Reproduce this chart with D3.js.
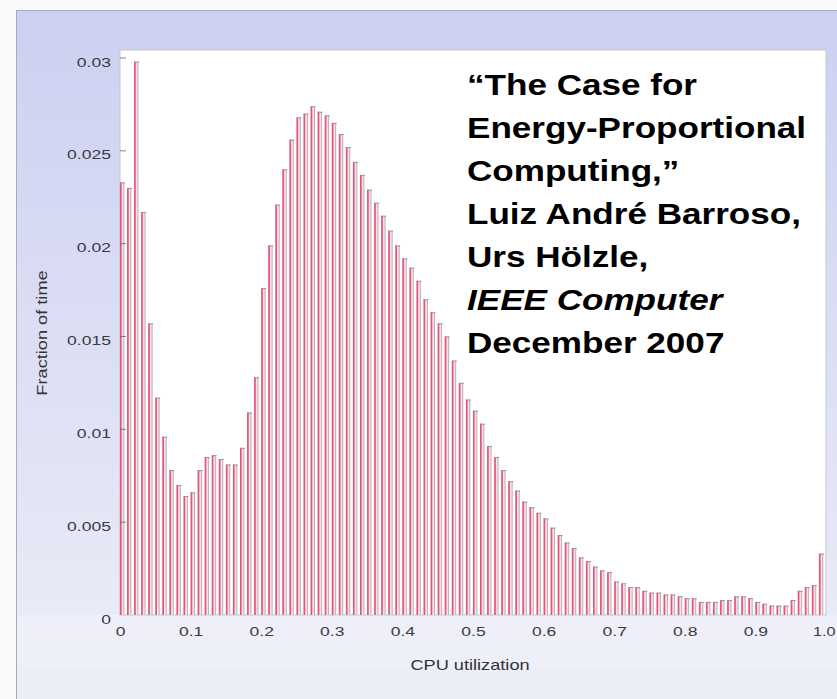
<!DOCTYPE html>
<html>
<head>
<meta charset="utf-8">
<script src="https://cdn.jsdelivr.net/npm/d3@7"></script>
<style>
  html, body { margin: 0; padding: 0; background: #ffffff; }
  svg { display: block; }
</style>
</head>
<body>
<svg id="chart" width="837" height="699"></svg>
<script>
// ---- data (fraction of time per 0.01-wide CPU utilization bin) ----
const binStarts = d3.range(0, 100).map(i => i / 100);
const fractionOfTime = [
  0.0233, 0.0230, 0.0298, 0.0217, 0.0157, 0.0117, 0.0096, 0.0078, 0.0070, 0.0064,
  0.0066, 0.0078, 0.0085, 0.0086, 0.0084, 0.0081, 0.0081, 0.0090, 0.0109, 0.0128,
  0.0176, 0.0199, 0.0221, 0.0240, 0.0256, 0.0268, 0.0270, 0.0274, 0.0271, 0.0269,
  0.0265, 0.0259, 0.0252, 0.0244, 0.0237, 0.0229, 0.0222, 0.0215, 0.0207, 0.0199,
  0.0192, 0.0187, 0.0180, 0.0170, 0.0163, 0.0157, 0.0150, 0.0137, 0.0125, 0.0116,
  0.0110, 0.0103, 0.0091, 0.0085, 0.0078, 0.0072, 0.0067, 0.0061, 0.0058, 0.0055,
  0.0052, 0.0047, 0.0043, 0.0039, 0.0036, 0.0031, 0.0029, 0.0026, 0.0024, 0.0023,
  0.0018, 0.0017, 0.0015, 0.0015, 0.0013, 0.0012, 0.0012, 0.0011, 0.0011, 0.0010,
  0.0009, 0.0009, 0.0007, 0.0007, 0.0007, 0.0008, 0.0008, 0.0010, 0.0010, 0.0009,
  0.0007, 0.0006, 0.0005, 0.0005, 0.0005, 0.0008, 0.0013, 0.0015, 0.0016, 0.0033
];
const binWidth = 0.01;
const yTickValues = [0, 0.005, 0.01, 0.015, 0.02, 0.025, 0.03];
const yTickLabels = ["0", "0.005", "0.01", "0.015", "0.02", "0.025", "0.03"];
const xTickValues = [0, 0.1, 0.2, 0.3, 0.4, 0.5, 0.6, 0.7, 0.8, 0.9, 1.0];
const xTickLabels = ["0", "0.1", "0.2", "0.3", "0.4", "0.5", "0.6", "0.7", "0.8", "0.9", "1.0"];
const yAxisTitle = "Fraction of time";
const xAxisTitle = "CPU utilization";
const citationLines = [
  { text: "\u201CThe Case for", italic: false },
  { text: "Energy-Proportional", italic: false },
  { text: "Computing,\u201D", italic: false },
  { text: "Luiz Andr\u00E9 Barroso,", italic: false },
  { text: "Urs H\u00F6lzle,", italic: false },
  { text: "IEEE Computer", italic: true },
  { text: "December 2007", italic: false }
];

// ---- layout ----
const W = 837, H = 699;
const plot = { left: 120, right: 826, top: 50, bottom: 615 };
const FONT = "Liberation Sans, Arial, sans-serif";

const svg = d3.select("#chart");
const defs = svg.append("defs");
const bg = defs.append("linearGradient").attr("id", "bgGrad")
  .attr("x1", 0).attr("y1", 0).attr("x2", 0).attr("y2", 1);
bg.append("stop").attr("offset", "0%").attr("stop-color", "#ccd0f1");
bg.append("stop").attr("offset", "35%").attr("stop-color", "#d8dbf3");
bg.append("stop").attr("offset", "75%").attr("stop-color", "#e5e7f6");
bg.append("stop").attr("offset", "100%").attr("stop-color", "#edeff8");

// outer white + framed slide background
svg.append("rect").attr("x", 0).attr("y", 0).attr("width", W).attr("height", H).attr("fill", "#f9f9fb");
svg.append("rect").attr("x", 16.5).attr("y", 10.5).attr("width", W).attr("height", H)
  .attr("fill", "url(#bgGrad)").attr("stroke", "#a9abb4").attr("stroke-width", 1);
// lighter strip under the plot (label region)
svg.append("rect").attr("x", 17).attr("y", plot.bottom).attr("width", W).attr("height", 53)
  .attr("fill", "#f0f1f9").attr("opacity", 0.7);

// plot area
svg.append("rect").attr("x", plot.left).attr("y", plot.top)
  .attr("width", plot.right - plot.left).attr("height", plot.bottom - plot.top)
  .attr("fill", "#ffffff").attr("stroke", "#c4c7d4").attr("stroke-width", 1);

const x = d3.scaleLinear().domain([0, 1]).range([plot.left, plot.right]);
const y = d3.scaleLinear().domain([0, 0.03]).range([plot.bottom, 58]);

// bars
const bars = svg.append("g").attr("class", "bars");
const bins = binStarts.map((s, i) => ({ x0: s, x1: s + binWidth, v: fractionOfTime[i] }));
const bw = x(binWidth) - x(0);
const g = bars.selectAll("g").data(bins).join("g");
g.append("rect")
  .attr("x", d => x(d.x0))
  .attr("y", d => y(d.v))
  .attr("width", bw * 0.55)
  .attr("height", d => y(0) - y(d.v))
  .attr("fill", "#fbe0e7");
g.append("line")
  .attr("x1", d => x(d.x0) + 0.8).attr("x2", d => x(d.x0) + 0.8)
  .attr("y1", d => y(d.v)).attr("y2", y(0))
  .attr("stroke", "#e3557a").attr("stroke-width", 1.7);
g.append("line")
  .attr("x1", d => x(d.x0) + bw * 0.55).attr("x2", d => x(d.x0) + bw * 0.55)
  .attr("y1", d => y(d.v)).attr("y2", y(0))
  .attr("stroke", "#a3a3a8").attr("stroke-width", 0.8);
g.append("line")
  .attr("x1", d => x(d.x0)).attr("x2", d => x(d.x0) + bw * 0.7)
  .attr("y1", d => y(d.v) + 0.4).attr("y2", d => y(d.v) + 0.4)
  .attr("stroke", "#8e8e94").attr("stroke-width", 0.9);

// y axis
const yAxis = d3.axisLeft(y).tickValues(yTickValues)
  .tickFormat((d, i) => yTickLabels[i]).tickSize(0).tickPadding(7);
const yg = svg.append("g").attr("transform", `translate(${plot.left},0)`).call(yAxis);
yg.select(".domain").remove();
yg.selectAll("text")
  .attr("font-family", FONT)
  .attr("font-size", 13.5).attr("fill", "#3a3a44")
  .attr("dy", "0.6em")
  .attr("transform", "scale(1.3,1)");
// small inward ticks
svg.append("g").selectAll("line").data(yTickValues.slice(1)).join("line")
  .attr("x1", plot.left).attr("x2", plot.left + 6)
  .attr("y1", d => y(d)).attr("y2", d => y(d))
  .attr("stroke", "#666").attr("stroke-width", 0.8);

// x axis
const xAxis = d3.axisBottom(x).tickValues(xTickValues)
  .tickFormat((d, i) => xTickLabels[i]).tickSize(0).tickPadding(11);
const xg = svg.append("g").attr("transform", `translate(0,${plot.bottom})`).call(xAxis);
xg.select(".domain").remove();
xg.selectAll("text")
  .attr("font-family", FONT)
  .attr("font-size", 13.5).attr("fill", "#3a3a44")
  .attr("transform", "scale(1.3,1)");
// last label sits at the right edge: keep it inside the page
xg.selectAll(".tick").filter(d => d === 1).select("text")
  .attr("text-anchor", "end")
  .attr("x", 7.5)
  .attr("transform", "scale(1.2,1)");

// axis titles (stretched along their reading direction like the reference)
svg.append("text")
  .attr("transform", "translate(47,333) rotate(-90) scale(1.3,1)")
  .attr("text-anchor", "middle")
  .attr("font-family", FONT)
  .attr("font-size", 14).attr("fill", "#333")
  .text(yAxisTitle);
svg.append("text")
  .attr("transform", "translate(470,670) scale(1.3,1)")
  .attr("text-anchor", "middle")
  .attr("font-family", FONT)
  .attr("font-size", 14).attr("fill", "#333")
  .text(xAxisTitle);

// citation box
svg.append("rect").attr("x", 457).attr("y", 51).attr("width", 361).attr("height", 331)
  .attr("fill", "#ffffff");
const cite = svg.append("g").attr("transform", "translate(467,0) scale(1.17,1)");
cite.selectAll("text").data(citationLines).join("text")
  .attr("x", 0)
  .attr("y", (d, i) => 95 + i * 43)
  .attr("font-family", FONT)
  .attr("font-weight", "bold")
  .attr("font-style", d => d.italic ? "italic" : "normal")
  .attr("font-size", 30)
  .attr("fill", "#000")
  .text(d => d.text);
</script>
</body>
</html>
